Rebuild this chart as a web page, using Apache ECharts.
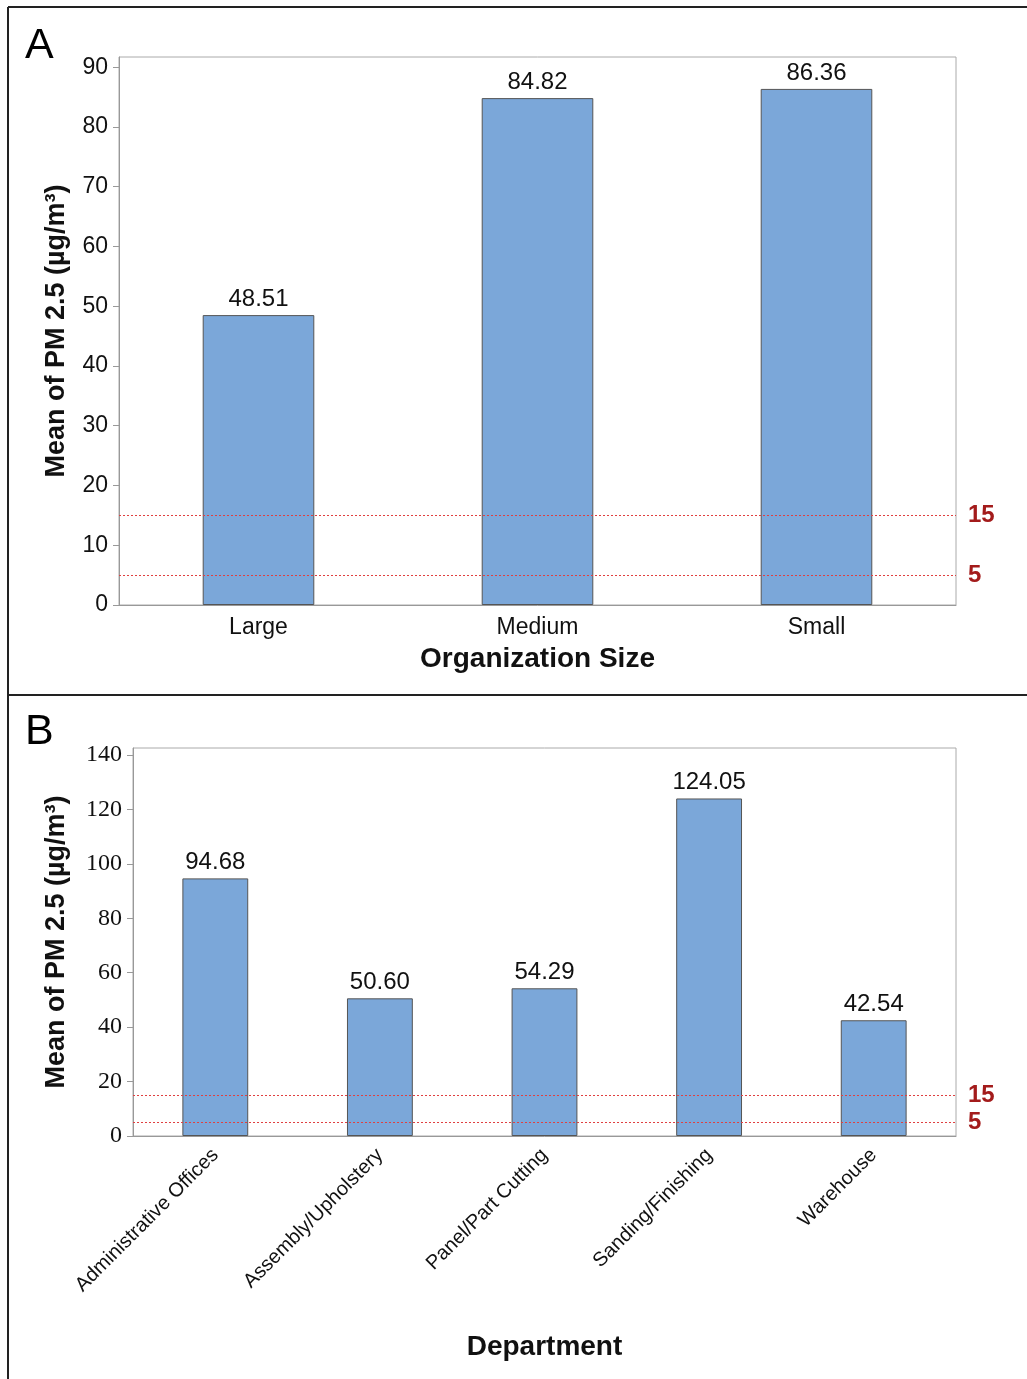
<!DOCTYPE html>
<html>
<head>
<meta charset="utf-8">
<script src="https://cdn.jsdelivr.net/npm/echarts@6/dist/echarts.min.js"></script>
<style>
  html, body { margin: 0; padding: 0; background: #fff; }
  #chart { width: 1027px; height: 1379px; }
</style>
</head>
<body>
<div id="chart"></div>
<script>
// panel A data
var sizeNames = ['Large', 'Medium', 'Small'];
var sizeMeans = [48.51, 84.82, 86.36];
var sizeTicks = [0, 10, 20, 30, 40, 50, 60, 70, 80, 90];

// panel B data
var deptNames = ['Administrative Offices', 'Assembly/Upholstery', 'Panel/Part Cutting', 'Sanding/Finishing', 'Warehouse'];
var deptMeans = [94.68, 50.60, 54.29, 124.05, 42.54];
var deptTicks = [0, 20, 40, 60, 80, 100, 120, 140];

// guideline levels
var limits = [15, 5];

var sans = 'Liberation Sans, Arial, sans-serif';
var serif = 'Liberation Serif, Times New Roman, serif';
var barColor = '#7ba7d9';
var limitColor = '#e04040';

var myChart = echarts.init(document.getElementById('chart'));

function limitLine() {
    return {
        silent: true,
        symbol: 'none',
        lineStyle: { type: [2, 2], color: limitColor, width: 1 },
        label: {
            position: 'end',
            distance: 12,
            formatter: '{c}',
            color: '#a31b1b',
            fontFamily: sans,
            fontWeight: 'bold',
            fontSize: 24
        },
        data: limits.map(function (v) {
            return { yAxis: v, lineStyle: { color: limitColor, type: [2, 2], width: 1 } };
        })
    };
}

function barLabel() {
    return {
        show: true,
        position: 'top',
        distance: 4,
        formatter: function (p) { return p.value.toFixed(2); },
        color: '#111',
        fontSize: 24,
        fontFamily: sans
    };
}

var option = {
    animation: false,
    backgroundColor: '#fff',
    graphic: [
        { type: 'line', shape: { x1: 8, y1: 7, x2: 8, y2: 1379 }, style: { stroke: '#222', lineWidth: 2 } },
        { type: 'line', shape: { x1: 8, y1: 7, x2: 1027, y2: 7 }, style: { stroke: '#222', lineWidth: 2 } },
        { type: 'line', shape: { x1: 8, y1: 695, x2: 1027, y2: 695 }, style: { stroke: '#222', lineWidth: 2 } },
        { type: 'text', left: 25, top: 25, style: { text: 'A', fontSize: 43, fontFamily: sans, fill: '#000' } },
        { type: 'text', left: 25, top: 711, style: { text: 'B', fontSize: 43, fontFamily: sans, fill: '#000' } }
    ],
    grid: [
        { left: 119, top: 57, width: 837, height: 548, show: true, borderColor: '#aaa', borderWidth: 1 },
        { left: 133, top: 748, width: 823, height: 388, show: true, borderColor: '#aaa', borderWidth: 1 }
    ],
    xAxis: [{
        gridIndex: 0,
        type: 'category',
        data: sizeNames,
        axisLine: { lineStyle: { color: '#999' } },
        axisTick: { alignWithLabel: true, length: 5, lineStyle: { color: '#999' } },
        axisLabel: { color: '#111', fontSize: 23, fontFamily: sans, margin: 11 },
        name: 'Organization Size',
        nameLocation: 'middle',
        nameGap: 40,
        nameTextStyle: { color: '#111', fontSize: 28, fontWeight: 'bold', fontFamily: sans, verticalAlign: 'top' }
    }, {
        gridIndex: 1,
        type: 'category',
        data: deptNames,
        axisLine: { lineStyle: { color: '#999' } },
        axisTick: { alignWithLabel: true, length: 5, lineStyle: { color: '#999' } },
        axisLabel: { color: '#111', fontSize: 20, fontFamily: sans, rotate: 45, margin: 16, interval: 0 },
        name: 'Department',
        nameLocation: 'middle',
        nameGap: 197,
        nameTextStyle: { color: '#111', fontSize: 28, fontWeight: 'bold', fontFamily: sans, verticalAlign: 'top' }
    }],
    yAxis: [{
        gridIndex: 0,
        type: 'value',
        min: 0,
        max: 91.7,
        splitLine: { show: false },
        axisLine: { show: true, lineStyle: { color: '#999' } },
        axisTick: { show: true, length: 6, lineStyle: { color: '#999' }, customValues: sizeTicks },
        axisLabel: { color: '#111', fontSize: 23, fontFamily: sans, margin: 11, customValues: sizeTicks },
        name: 'Mean of PM 2.5 (µg/m³)',
        nameLocation: 'middle',
        nameGap: 49,
        nameTextStyle: { color: '#111', fontSize: 27, fontWeight: 'bold', fontFamily: sans }
    }, {
        gridIndex: 1,
        type: 'value',
        min: 0,
        max: 142.6,
        splitLine: { show: false },
        axisLine: { show: true, lineStyle: { color: '#999' } },
        axisTick: { show: true, length: 6, lineStyle: { color: '#999' }, customValues: deptTicks },
        axisLabel: { color: '#111', fontSize: 24, fontFamily: serif, margin: 11, customValues: deptTicks },
        name: 'Mean of PM 2.5 (µg/m³)',
        nameLocation: 'middle',
        nameGap: 63,
        nameTextStyle: { color: '#111', fontSize: 27, fontWeight: 'bold', fontFamily: sans }
    }],
    series: [{
        type: 'bar',
        xAxisIndex: 0,
        yAxisIndex: 0,
        data: sizeMeans,
        barWidth: '40%',
        itemStyle: { color: barColor, borderColor: '#555', borderWidth: 1 },
        label: barLabel(),
        markLine: limitLine()
    }, {
        type: 'bar',
        xAxisIndex: 1,
        yAxisIndex: 1,
        data: deptMeans,
        barWidth: '40%',
        itemStyle: { color: barColor, borderColor: '#555', borderWidth: 1 },
        label: barLabel(),
        markLine: limitLine()
    }]
};
myChart.setOption(option);
</script>
</body>
</html>
